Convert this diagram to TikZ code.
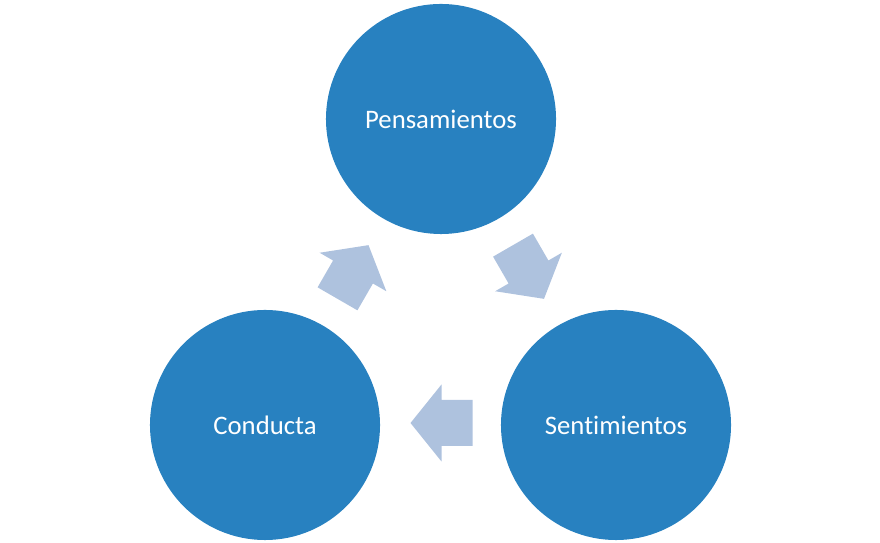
\documentclass[tikz,border=0pt]{standalone}
\usepackage{fontspec}
\setmainfont{Carlito}[Ligatures=NoCommon]
\usetikzlibrary{calc}
\definecolor{circblue}{RGB}{40,129,192}
\definecolor{arrowblue}{RGB}{174,194,222}
\tikzset{
  idea/.style={circle, fill=circblue, text=white, minimum size=5.75cm,
    inner sep=0pt, font=\fontsize{19}{22}\selectfont},
  flecha/.style={fill=arrowblue}
}
\begin{document}
\begin{tikzpicture}[x=0.025cm,y=0.025cm]
  \useasboundingbox (0,0) rectangle (880,543);
  \node[idea] (pens) at (441,424) {Pensamientos};
  \node[idea] (cond) at (265,118) {Conducta};
  \node[idea] (sent) at (616,118) {Sentimientos};

  \begin{scope}[shift={($(cond)!0.5!(pens)$)}, rotate=60]
    \fill[flecha] (-31,-23) -- (0,-23) -- (0,-38.5) -- (31,0) --
    (0,38.5) -- (0,23) -- (-31,23) -- cycle;
  \end{scope}
  \begin{scope}[shift={($(pens)!0.5!(sent)$)}, rotate=-60]
    \fill[flecha] (-31,-23) -- (0,-23) -- (0,-38.5) -- (31,0) --
    (0,38.5) -- (0,23) -- (-31,23) -- cycle;
  \end{scope}
  \begin{scope}[shift={($(sent)!0.5!(cond)+(1,2)$)}, rotate=180]
    \fill[flecha] (-31,-23) -- (0,-23) -- (0,-38.5) -- (31,0) --
    (0,38.5) -- (0,23) -- (-31,23) -- cycle;
  \end{scope}
\end{tikzpicture}
\end{document}
